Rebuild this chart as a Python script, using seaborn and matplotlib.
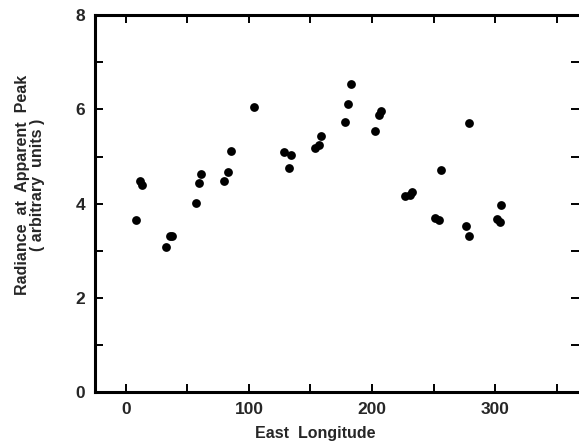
import matplotlib
matplotlib.use("Agg")
import matplotlib.pyplot as plt
import seaborn as sns
import pandas as pd
from matplotlib.ticker import FixedLocator

east_longitude = [8.4, 11.4, 12.9, 33.0, 35.7, 37.8, 57.0, 59.4, 61.2, 80.0,
                  83.3, 85.1, 104.3, 128.3, 134.0, 132.5, 153.5, 156.8, 158.9, 178.0,
                  180.8, 182.9, 202.0, 206.0, 207.4, 227.0, 230.5, 232.3, 251.0, 254.0,
                  255.7, 276.4, 279.0, 278.8, 301.6, 304.0, 305.0]
radiance = [3.65, 4.48, 4.40, 3.09, 3.31, 3.32, 4.02, 4.44, 4.63, 4.49,
            4.67, 5.12, 6.06, 5.09, 5.04, 4.76, 5.19, 5.24, 5.43, 5.73,
            6.11, 6.53, 5.54, 5.88, 5.97, 4.17, 4.19, 4.26, 3.69, 3.66,
            4.72, 3.53, 3.31, 5.71, 3.68, 3.61, 3.97]

x_ticks = [0, 100, 200, 300]
x_minor = [50, 150, 250, 350]
y_ticks = [0, 2, 4, 6, 8]
y_minor = [1, 3, 5, 7]

df = pd.DataFrame({"lon": east_longitude, "rad": radiance})

sns.set_theme(style="ticks")
plt.rcParams["font.family"] = ["Liberation Sans", "DejaVu Sans"]
plt.rcParams["font.weight"] = "bold"

fig = plt.figure(figsize=(5.79, 4.45), dpi=100)
ax = fig.add_axes([0.164, 0.118, 0.836, 0.848])

sns.scatterplot(data=df, x="lon", y="rad", ax=ax, color="black", s=40,
                edgecolor="black", linewidth=0, legend=False)

ax.set_xlim(-25, 368)
ax.set_ylim(0, 8)
ax.xaxis.set_major_locator(FixedLocator(x_ticks))
ax.xaxis.set_minor_locator(FixedLocator(x_minor))
ax.yaxis.set_major_locator(FixedLocator(y_ticks))
ax.yaxis.set_minor_locator(FixedLocator(y_minor))

for s in ["left", "bottom", "top"]:
    ax.spines[s].set_linewidth(2.2)
    ax.spines[s].set_color("black")
ax.spines["right"].set_visible(False)

ax.tick_params(axis="both", which="both", direction="in", color="black",
               width=1.4, length=5.5)
ax.tick_params(axis="x", which="both", top=True, bottom=True)
ax.tick_params(axis="y", which="both", left=True, right=True)
ax.tick_params(axis="x", which="major", labelsize=12.5, pad=7)
ax.tick_params(axis="y", which="major", labelsize=12.5, pad=7)
for lab in ax.get_xticklabels() + ax.get_yticklabels():
    lab.set_fontweight("bold")

ax.set_xlabel("East  Longitude", fontsize=11.5, fontweight="bold")
ax.set_ylabel("Radiance  at  Apparent  Peak\n( arbitrary  units )", fontsize=11.5,
              fontweight="bold", linespacing=1.0)
ax.xaxis.set_label_coords(0.456, -0.088)
ax.yaxis.set_label_coords(-0.103, 0.55)

fig.savefig("out.png", dpi=100, facecolor="white")
